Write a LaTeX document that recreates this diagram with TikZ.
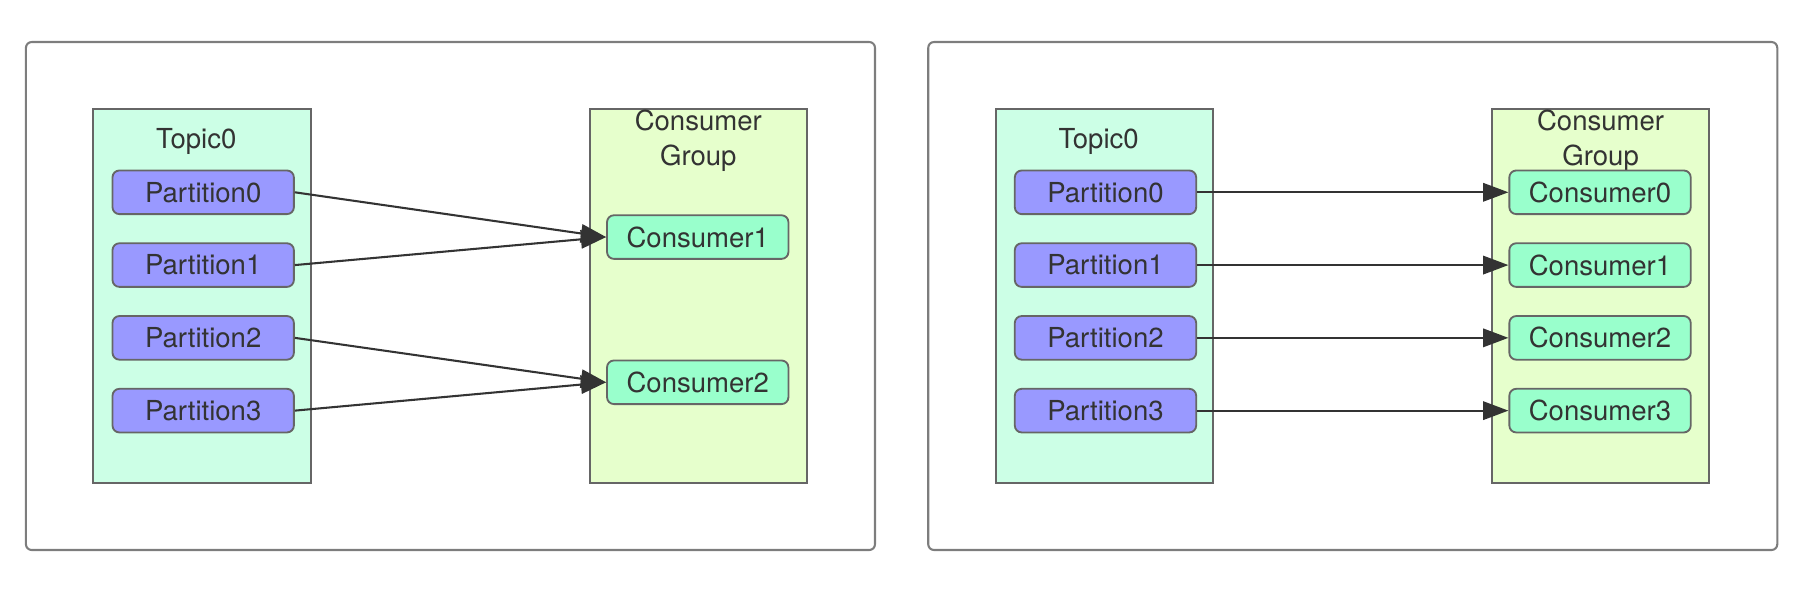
\documentclass[tikz,border=0pt]{standalone}
\usepackage{fontspec}
\setmainfont{TeX Gyre Heros}
\usetikzlibrary{positioning,arrows.meta}
\definecolor{topicfill}{HTML}{CCFFE6}
\definecolor{groupfill}{HTML}{E6FFCC}
\definecolor{partfill}{HTML}{9999FF}
\definecolor{consfill}{HTML}{99FFCC}
\definecolor{edge}{HTML}{666666}
\definecolor{ink}{HTML}{333333}
\tikzset{panel/.style={draw=edge!85,line width=0.9pt,rounded corners=2.5pt},
colbox/.style={rectangle,draw=edge,line width=0.8pt,minimum width=94.7pt,minimum height=163pt},
mybox/.style={rectangle,draw=edge,line width=0.8pt,rounded corners=3pt,minimum width=79pt,minimum height=19pt,text=ink},
flow/.style={draw=ink,line width=0.9pt,-{Triangle[length=11pt,width=8pt]}}}
\newcommand{\mytopic}[1]{
\node[colbox,fill=topicfill] (topic-#1) at (176,257.7) {};
\node[text=ink,xshift=-2.5pt,yshift=-14.6pt] (title-#1) at (topic-#1.north) {Topic0};
\node[mybox,fill=partfill] (part-#1-0) at (177,167.5) {Partition0};
\node[mybox,fill=partfill,below=11.9pt of part-#1-0] (part-#1-1) {Partition1};
\node[mybox,fill=partfill,below=11.9pt of part-#1-1] (part-#1-2) {Partition2};
\node[mybox,fill=partfill,below=11.9pt of part-#1-2] (part-#1-3) {Partition3};
}
\newcommand{\mygroup}[1]{
\node[colbox,fill=groupfill] (group-#1) at (608.3,257.8) {};
\node[text=ink,align=center,yshift=-14.3pt] (label-#1) at (group-#1.north) {Consumer\\[1.5pt]Group};
}
\newcommand{\Link}[2]{\draw[flow] (#1.east) -- (#2.west);
}

\begin{document}
\begin{tikzpicture}[x=0.5pt,y=-0.5pt,font=\fontsize{12pt}{13.5pt}\selectfont]
    \useasboundingbox (0,0) rectangle (1568,516);
    % left panel: two consumers
    \draw[panel] (22.6,36.6) rectangle (762.2,479.1);
    \mytopic{a}
    \mygroup{a}
    \node[mybox,fill=consfill] (cons-a-1) at (607.8,206.5) {Consumer1};
    \node[mybox,fill=consfill] (cons-a-2) at (607.8,333) {Consumer2};
    \Link{part-a-0}{cons-a-1}
    \Link{part-a-1}{cons-a-1}
    \Link{part-a-2}{cons-a-2}
    \Link{part-a-3}{cons-a-2}
    % right panel: one consumer per partition
    \begin{scope}[xshift=393pt]
    \draw[panel] (22.6,36.6) rectangle (762.2,479.1);
    \mytopic{b}
    \mygroup{b}
    \node[mybox,fill=consfill] (cons-b-0) at (607.8,167.5) {Consumer0};
    \node[mybox,fill=consfill,below=11.9pt of cons-b-0] (cons-b-1) {Consumer1};
    \node[mybox,fill=consfill,below=11.9pt of cons-b-1] (cons-b-2) {Consumer2};
    \node[mybox,fill=consfill,below=11.9pt of cons-b-2] (cons-b-3) {Consumer3};
    \end{scope}
    \Link{part-b-0}{cons-b-0}
    \Link{part-b-1}{cons-b-1}
    \Link{part-b-2}{cons-b-2}
    \Link{part-b-3}{cons-b-3}
\end{tikzpicture}
\end{document}
